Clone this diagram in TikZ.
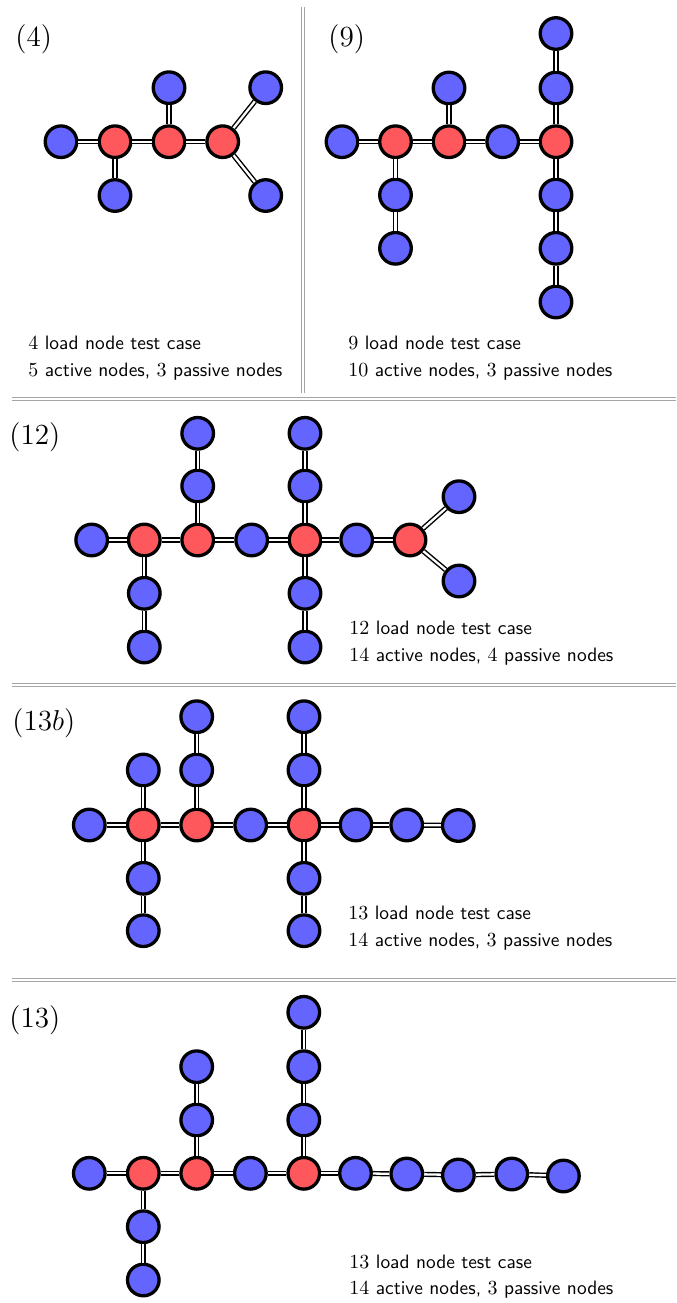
\documentclass[tikz,border=0pt]{standalone}
\definecolor{nblue}{RGB}{100,100,255}
\definecolor{nred}{RGB}{255,88,92}
\definecolor{sepgray}{RGB}{165,165,165}
\begin{document}
\begin{tikzpicture}[x=0.5pt,y=-0.5pt,
 bnode/.style={circle,draw=black,line width=1.65pt,fill=nblue,minimum size=15.8pt,inner sep=0pt},
 rnode/.style={bnode,fill=nred},
 link/.style={draw=black,double=white,line width=0.72pt,double distance=1.15pt},
 sepline/.style={draw=sepgray,double=white,line width=0.5pt,double distance=1pt},
 title/.style={anchor=west,inner sep=0pt,font=\fontsize{14.6}{17}\selectfont},
 info/.style={anchor=west,inner sep=0pt,font=\fontsize{9.7}{15}\selectfont\sffamily}]
\useasboundingbox (0,0) rectangle (676,1303);

% separators
\coordinate (v1) at (303,7);
\coordinate (v2) at (303,393);
\coordinate (h1a) at (12,399);
\coordinate (h1b) at (676,399);
\coordinate (h2a) at (12,684.5);
\coordinate (h2b) at (676,684.5);
\coordinate (h3a) at (12,980);
\coordinate (h3b) at (676,980);
\draw[sepline] (v1) -- (v2);
\draw[sepline] (h1a) -- (h1b);
\draw[sepline] (h2a) -- (h2b);
\draw[sepline] (h3a) -- (h3b);

% ---------- (4)
\node[title] (t4) at (15,39) {(4)};
\node[bnode] (a1) at (61,141.7) {};
\node[rnode] (a2) at (115,141.7) {};
\node[rnode] (a3) at (169,141.7) {};
\node[rnode] (a4) at (222.7,141.7) {};
\node[bnode] (a5) at (169,87.7) {};
\node[bnode] (a6) at (115,195.5) {};
\node[bnode] (a7) at (265.7,87.7) {};
\node[bnode] (a8) at (265.7,195.5) {};
\draw[link] (a1)--(a2);
\draw[link] (a2)--(a3);
\draw[link] (a3)--(a4);
\draw[link] (a3)--(a5);
\draw[link] (a2)--(a6);
\draw[link] (a4)--(a7);
\draw[link] (a4)--(a8);
\node[info] (i4a) at (28,343) {$4$ load node test case};
\node[info] (i4b) at (28,372) {$5$ active nodes, $3$ passive nodes};

% ---------- (9)
\node[title] (t9) at (328,39) {(9)};
\node[bnode] (b1) at (342,141.7) {};
\node[rnode] (b2) at (395.5,141.7) {};
\node[rnode] (b3) at (449,141.7) {};
\node[bnode] (b4) at (502.7,141.7) {};
\node[rnode] (b5) at (556,141.7) {};
\node[bnode] (b6) at (449,88) {};
\node[bnode] (b7) at (395.5,195) {};
\node[bnode] (b8) at (395.5,248.3) {};
\node[bnode] (b9) at (556,33.5) {};
\node[bnode] (b10) at (556,88) {};
\node[bnode] (b11) at (556,195) {};
\node[bnode] (b12) at (556,248.3) {};
\node[bnode] (b13) at (556,302) {};
\draw[link] (b1)--(b2);
\draw[link] (b2)--(b3);
\draw[link] (b3)--(b4);
\draw[link] (b4)--(b5);
\draw[link] (b3)--(b6);
\draw[link] (b2)--(b7);
\draw[link] (b7)--(b8);
\draw[link] (b5)--(b10);
\draw[link] (b10)--(b9);
\draw[link] (b5)--(b11);
\draw[link] (b11)--(b12);
\draw[link] (b12)--(b13);
\node[info] (i9a) at (348,343) {$9$ load node test case};
\node[info] (i9b) at (348,372) {$10$ active nodes, $3$ passive nodes};

% ---------- (12)
\node[title] (t12) at (9,437) {(12)};
\node[bnode] (c1) at (91.7,540) {};
\node[rnode] (c2) at (144.3,540) {};
\node[rnode] (c3) at (197.7,540) {};
\node[bnode] (c4) at (251.7,540) {};
\node[rnode] (c5) at (305,540) {};
\node[bnode] (c6) at (356.7,540) {};
\node[rnode] (c7) at (410,540) {};
\node[bnode] (c8) at (197.7,486) {};
\node[bnode] (c9) at (197.7,433.3) {};
\node[bnode] (c10) at (305,486) {};
\node[bnode] (c11) at (305,433.3) {};
\node[bnode] (c12) at (144.3,593.3) {};
\node[bnode] (c13) at (144.3,647) {};
\node[bnode] (c14) at (305,593.3) {};
\node[bnode] (c15) at (305,647) {};
\node[bnode] (c16) at (459,496.7) {};
\node[bnode] (c17) at (459,581) {};
\draw[link] (c1)--(c2);
\draw[link] (c2)--(c3);
\draw[link] (c3)--(c4);
\draw[link] (c4)--(c5);
\draw[link] (c5)--(c6);
\draw[link] (c6)--(c7);
\draw[link] (c3)--(c8);
\draw[link] (c8)--(c9);
\draw[link] (c5)--(c10);
\draw[link] (c10)--(c11);
\draw[link] (c2)--(c12);
\draw[link] (c12)--(c13);
\draw[link] (c5)--(c14);
\draw[link] (c14)--(c15);
\draw[link] (c7)--(c16);
\draw[link] (c7)--(c17);
\node[info] (i12a) at (349,628) {$12$ load node test case};
\node[info] (i12b) at (349,657) {$14$ active nodes, $4$ passive nodes};

% ---------- (13b)
\node[title] (t13b) at (12,723) {(13$b$)};
\node[bnode] (d1) at (89.3,825) {};
\node[rnode] (d2) at (143.3,825) {};
\node[rnode] (d3) at (196.7,825) {};
\node[bnode] (d4) at (250.7,825) {};
\node[rnode] (d5) at (304,825) {};
\node[bnode] (d6) at (356,825) {};
\node[bnode] (d7) at (406.7,825) {};
\node[bnode] (d8) at (458.3,825.5) {};
\node[bnode] (d9) at (143.3,770) {};
\node[bnode] (d10) at (196.7,770) {};
\node[bnode] (d11) at (196.7,716.7) {};
\node[bnode] (d12) at (304,770) {};
\node[bnode] (d13) at (304,716.7) {};
\node[bnode] (d14) at (143.3,878.3) {};
\node[bnode] (d15) at (143.3,930.7) {};
\node[bnode] (d16) at (304,878.3) {};
\node[bnode] (d17) at (304,930.7) {};
\draw[link] (d1)--(d2);
\draw[link] (d2)--(d3);
\draw[link] (d3)--(d4);
\draw[link] (d4)--(d5);
\draw[link] (d5)--(d6);
\draw[link] (d6)--(d7);
\draw[link] (d7)--(d8);
\draw[link] (d2)--(d9);
\draw[link] (d3)--(d10);
\draw[link] (d10)--(d11);
\draw[link] (d5)--(d12);
\draw[link] (d12)--(d13);
\draw[link] (d2)--(d14);
\draw[link] (d14)--(d15);
\draw[link] (d5)--(d16);
\draw[link] (d16)--(d17);
\node[info] (i13ba) at (348,912.5) {$13$ load node test case};
\node[info] (i13bb) at (348,941.5) {$14$ active nodes, $3$ passive nodes};

% ---------- (13)
\node[title] (t13) at (9,1020) {(13)};
\node[bnode] (e1) at (89.3,1173.3) {};
\node[rnode] (e2) at (143.3,1173.3) {};
\node[rnode] (e3) at (196.7,1173.3) {};
\node[bnode] (e4) at (250.4,1173.3) {};
\node[rnode] (e5) at (303.8,1173.3) {};
\node[bnode] (e6) at (355.5,1173.3) {};
\node[bnode] (e7) at (406.8,1174) {};
\node[bnode] (e8) at (458.4,1175) {};
\node[bnode] (e9) at (511.8,1174) {};
\node[bnode] (e10) at (563.4,1176) {};
\node[bnode] (e11) at (196.7,1120) {};
\node[bnode] (e12) at (196.7,1066.7) {};
\node[bnode] (e13) at (303.8,1120) {};
\node[bnode] (e14) at (303.8,1066.7) {};
\node[bnode] (e15) at (303.8,1012.3) {};
\node[bnode] (e16) at (143.3,1226.7) {};
\node[bnode] (e17) at (143.3,1280) {};
\draw[link] (e1)--(e2);
\draw[link] (e2)--(e3);
\draw[link] (e3)--(e4);
\draw[link] (e4)--(e5);
\draw[link] (e5)--(e6);
\draw[link] (e6)--(e7);
\draw[link] (e7)--(e8);
\draw[link] (e8)--(e9);
\draw[link] (e9)--(e10);
\draw[link] (e3)--(e11);
\draw[link] (e11)--(e12);
\draw[link] (e5)--(e13);
\draw[link] (e13)--(e14);
\draw[link] (e14)--(e15);
\draw[link] (e2)--(e16);
\draw[link] (e16)--(e17);
\node[info] (i13a) at (349,1261.5) {$13$ load node test case};
\node[info] (i13b) at (349,1289.5) {$14$ active nodes, $3$ passive nodes};
\end{tikzpicture}
\end{document}
